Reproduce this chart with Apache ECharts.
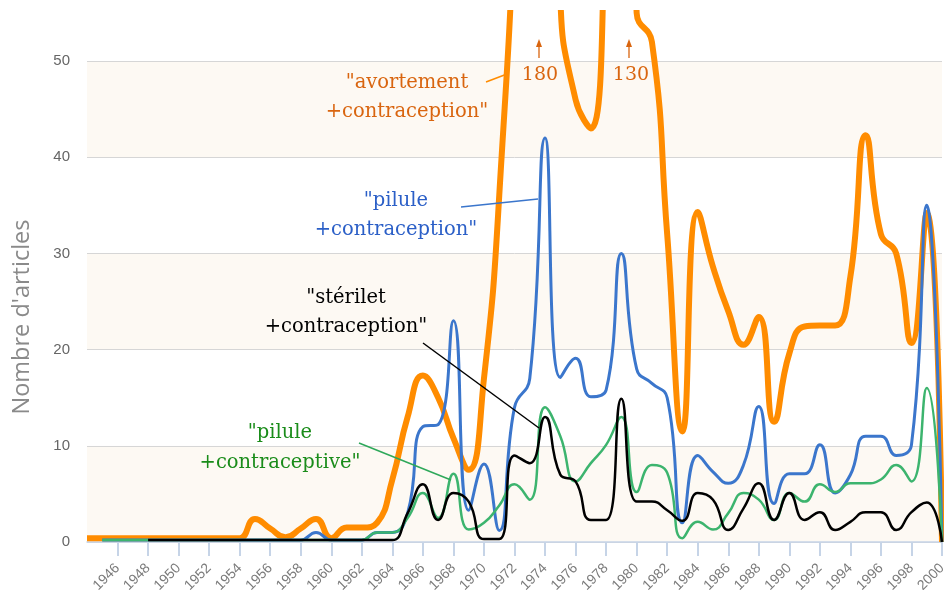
<!DOCTYPE html>
<html lang="fr">
<head>
    <meta charset="UTF-8">
    <title>Nombre d'articles</title>
    <script src="https://cdn.jsdelivr.net/npm/echarts@6/dist/echarts.min.js"></script>
    <style>
        html, body { margin: 0; padding: 0; background: #fff; }
        #main { width: 944px; height: 590px; }
    </style>
</head>
<body>
<div id="main"></div>
<script>
    // années (axe x)
    var years = [1944, 1945, 1946, 1947, 1948, 1949, 1950, 1951, 1952, 1953,
        1954, 1955, 1956, 1957, 1958, 1959, 1960, 1961, 1962, 1963,
        1964, 1965, 1966, 1967, 1968, 1969, 1970, 1971, 1972, 1973,
        1974, 1975, 1976, 1977, 1978, 1979, 1980, 1981, 1982, 1983,
        1984, 1985, 1986, 1987, 1988, 1989, 1990, 1991, 1992, 1993,
        1994, 1995, 1996, 1997, 1998, 1999, 2000];
    var tickYears = [1946, 1948, 1950, 1952, 1954, 1956, 1958, 1960, 1962, 1964,
        1966, 1968, 1970, 1972, 1974, 1976, 1978, 1980, 1982, 1984,
        1986, 1988, 1990, 1992, 1994, 1996, 1998, 2000];

    // "avortement +contraception"
    var avortement = [0.4, 0.4, 0.4, 0.4, 0.4, 0.4, 0.4, 0.4, 0.4, 0.4,
        0.4, 2.4, 1.4, 0.5, 1.4, 2.4, 0.4, 1.5, 1.5, 2,
        6.5, 13, 17.3, 15, 10.8, 7.5, 17, 36, 70, 180,
        170, 57, 46, 43, 70, 130, 55, 52, 32, 11.5,
        34.3, 28.6, 24, 20.5, 23.4, 12.5, 19.6, 22.4, 22.5, 22.5,
        27.6, 42.3, 32, 30, 20.7, 34.2, 0];
    // "pilule +contraception"
    var piluleContraception = [null, 0.2, 0.2, 0.2, 0.2, 0.2, 0.2, 0.2, 0.2, 0.2,
        0.2, 0.2, 0.2, 0.2, 0.2, 1, 0.2, 0.2, 0.2, 1,
        1, 3, 12, 12.2, 23, 3.3, 8.1, 1.2, 14, 17,
        42, 17.1, 19.1, 15.1, 15.8, 30, 18, 16.5, 15, 2,
        9, 7.3, 6.1, 8, 14.1, 4, 7.1, 7.1, 10.1, 5.1,
        7, 11, 11, 9, 10.1, 35, 0];
    // "pilule +contraceptive"
    var piluleContraceptive = [null, 0.2, 0.2, 0.2, 0.2, 0.2, 0.2, 0.2, 0.2, 0.2,
        0.2, 0.2, 0.2, 0.2, 0.2, 0.2, 0.2, 0.2, 0.2, 1,
        1, 2.5, 5.1, 2.5, 7.1, 1.3, 2, 3.8, 6, 4.4,
        14, 11, 6.3, 8.2, 10.1, 13, 5.2, 8, 7.2, 0.4,
        2.1, 1.3, 3, 5.1, 4.4, 2.3, 5.1, 4.2, 6, 5.2,
        6.1, 6.1, 6.5, 8, 6.3, 16, 0];
    // "stérilet +contraception"
    var sterilet = [null, null, null, null, 0.2, 0.2, 0.2, 0.2, 0.2, 0.2,
        0.2, 0.2, 0.2, 0.2, 0.2, 0.2, 0.2, 0.2, 0.2, 0.2,
        0.2, 3, 6, 2.3, 5.1, 4.2, 0.3, 0.3, 9, 8.2,
        13, 7, 6.3, 2.3, 2.3, 14.9, 4.2, 4.2, 3.3, 2.2,
        5.1, 4.4, 1.25, 3.5, 6.1, 2.3, 5.1, 2.3, 3.1, 1.25,
        2.1, 3.1, 3.1, 1.25, 3.1, 4.1, 0];

    function pairs(vals) {
        return years.map(function (y, i) { return [y, vals[i]]; });
    }

    var serif = '"DejaVu Serif", serif';
    var orange = '#ff8c00', blue = '#3b76cc', green = '#3cb46e';

    var chart = echarts.init(document.getElementById('main'));

    var option = {
        animation: false,
        grid: { left: 87, right: 2, top: 13, bottom: 48, outerBoundsMode: 'none' },
        xAxis: {
            type: 'value',
            min: 1944,
            max: 2000,
            axisLine: { lineStyle: { color: '#c6d4e7', width: 1.5 } },
            axisTick: { customValues: tickYears, length: 14, lineStyle: { color: '#c6d4e7', width: 2 } },
            axisLabel: {
                customValues: tickYears,
                formatter: function (v) { return String(v); },
                rotate: 45,
                margin: 24,
                fontSize: 14,
                color: '#7a7a7a',
                fontFamily: '"Liberation Sans", Arial, sans-serif'
            },
            splitLine: { show: false }
        },
        yAxis: {
            type: 'value',
            min: 0,
            max: 55,
            interval: 10,
            axisLine: { show: false },
            axisTick: { show: false },
            axisLabel: {
                showMaxLabel: false,
                margin: 17,
                fontSize: 15,
                color: '#666',
                fontFamily: '"Liberation Sans", Arial, sans-serif'
            },
            splitLine: { showMaxLine: false, lineStyle: { color: '#d6d6d6' } },
            splitArea: { show: true, areaStyle: { color: ['#fdf9f3', '#ffffff'] } }
        },
        series: [
            { name: 'avortement', type: 'line', smooth: 0.5, symbol: 'none',
              data: pairs(avortement), lineStyle: { color: orange, width: 6 } },
            { name: 'pilule contraception', type: 'line', smooth: 0.5, symbol: 'none',
              data: pairs(piluleContraception), lineStyle: { color: blue, width: 3 } },
            { name: 'pilule contraceptive', type: 'line', smooth: 0.5, symbol: 'none',
              data: pairs(piluleContraceptive), lineStyle: { color: green, width: 2.5 } },
            { name: 'stérilet', type: 'line', smooth: 0.5, symbol: 'none',
              data: pairs(sterilet), lineStyle: { color: '#000', width: 2.5 } }
        ],
        graphic: {
            elements: [
                // titre de l'axe y
                { type: 'text', x: 22, y: 317, rotation: Math.PI / 2, z: 100,
                  style: { text: "Nombre d'articles", fill: '#8a8a8a', font: '23.5px "Open Sans", sans-serif',
                           align: 'center', verticalAlign: 'middle' } },
                // étiquettes des courbes
                { type: 'text', x: 407, y: 97, z: 100, style: { text: '"avortement\n+contraception"', fill: '#d9650f',
                  font: '19.5px ' + serif, align: 'center', verticalAlign: 'middle', lineHeight: 29 } },
                { type: 'text', x: 396, y: 215, z: 100, style: { text: '"pilule\n+contraception"', fill: '#2b5fc7',
                  font: '19.5px ' + serif, align: 'center', verticalAlign: 'middle', lineHeight: 29 } },
                { type: 'text', x: 346, y: 312, z: 100, style: { text: '"stérilet\n+contraception"', fill: '#000',
                  font: '19.5px ' + serif, align: 'center', verticalAlign: 'middle', lineHeight: 29 } },
                { type: 'text', x: 280, y: 448, z: 100, style: { text: '"pilule\n+contraceptive"', fill: '#1a8c1a',
                  font: '19.5px ' + serif, align: 'center', verticalAlign: 'middle', lineHeight: 30 } },
                { type: 'text', x: 540, y: 75, z: 100, style: { text: '180', fill: '#d9650f',
                  font: '19px ' + serif, align: 'center', verticalAlign: 'middle' } },
                { type: 'text', x: 631, y: 75, z: 100, style: { text: '130', fill: '#d9650f',
                  font: '19px ' + serif, align: 'center', verticalAlign: 'middle' } },
                // traits de rappel
                { type: 'line', z: 100, shape: { x1: 486, y1: 82, x2: 507, y2: 74 }, style: { stroke: orange, lineWidth: 1.5 } },
                { type: 'line', z: 100, shape: { x1: 461, y1: 207, x2: 538, y2: 199 }, style: { stroke: blue, lineWidth: 1.5 } },
                { type: 'line', z: 100, shape: { x1: 423, y1: 343, x2: 539, y2: 428 }, style: { stroke: '#000', lineWidth: 1.5 } },
                { type: 'line', z: 100, shape: { x1: 359, y1: 443, x2: 451, y2: 480 }, style: { stroke: '#2ea85a', lineWidth: 1.5 } },
                // flèches hors échelle
                { type: 'line', z: 100, shape: { x1: 539, y1: 58, x2: 539, y2: 43 }, style: { stroke: '#d9650f', lineWidth: 1.3 } },
                { type: 'polygon', z: 100, shape: { points: [[536, 47], [539, 39], [542, 47]] }, style: { fill: '#d9650f' } },
                { type: 'line', z: 100, shape: { x1: 629, y1: 58, x2: 629, y2: 43 }, style: { stroke: '#d9650f', lineWidth: 1.3 } },
                { type: 'polygon', z: 100, shape: { points: [[626, 47], [629, 39], [632, 47]] }, style: { fill: '#d9650f' } }
            ]
        }
    };

    chart.setOption(option);
</script>
</body>
</html>
